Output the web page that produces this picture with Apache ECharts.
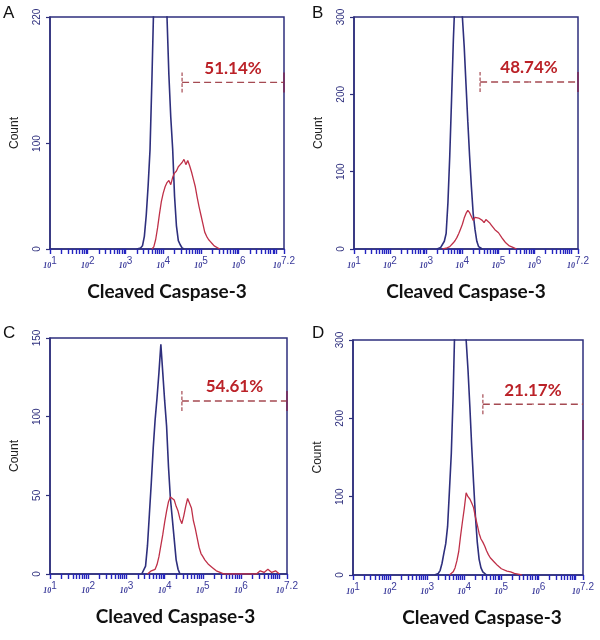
<!DOCTYPE html>
<html><head><meta charset="utf-8">
<script src="https://cdn.jsdelivr.net/npm/echarts@6/dist/echarts.min.js"></script>
<style>html,body{margin:0;padding:0;background:#fff}#c{width:600px;height:640px}</style>
</head><body><div id="c"></div>
<script>
// ---- data (x = log10 of fluorescence, y = count) ----
const panelLetters = ['A','B','C','D'];
const xTickLabels = [1,2,3,4,5,6,7.2];
const yMaxes = [220,300,150,300];
const yLabelsA = [0,100,220];
const yLabelsB = [0,100,200,300];
const yLabelsC = [0,50,100,150];
const yLabelsD = [0,100,200,300];

const blueA_x = [3.30,3.35,3.40,3.45,3.50,3.55,3.60,3.65,3.70,3.75,3.80,3.85,3.90,3.95,4.00,4.05,4.10,4.15,4.20,4.25,4.30,4.35,4.40,4.45,4.50,4.55];
const blueA_y = [0,1,1,3,12,32,60,94,160,235,320,400,440,445,400,310,220,165,125,95,50,22,8,4,1,0];
const redA_x = [3.70,3.75,3.80,3.85,3.90,3.95,4.00,4.05,4.10,4.15,4.20,4.25,4.30,4.35,4.40,4.45,4.50,4.55,4.60,4.65,4.70,4.75,4.80,4.85,4.90,4.95,5.00,5.05,5.10,5.15,5.20,5.25,5.30,5.35,5.40,5.45,5.50];
const redA_y = [0,2,9,20,33,45,53,59,63,65,61,68,72,74,78,80,82,85,80,84,79,73,66,59,49,40,32,24,16,12,9,7,5,3,2,1,0];

const blueB_x = [3.30,3.35,3.40,3.45,3.50,3.55,3.60,3.65,3.70,3.75,3.80,3.85,3.90,3.95,4.00,4.05,4.10,4.15,4.20,4.25,4.30,4.35,4.40,4.45,4.50,4.55];
const blueB_y = [0,1,2,4,10,20,60,120,193,270,330,370,385,360,300,262,213,165,120,80,45,25,10,3,1,0];
const redB_x = [3.45,3.55,3.65,3.75,3.80,3.85,3.90,3.95,4.00,4.05,4.10,4.15,4.20,4.25,4.30,4.35,4.40,4.45,4.50,4.55,4.60,4.65,4.70,4.75,4.80,4.85,4.90,4.95,5.00,5.05,5.10,5.15,5.20,5.25,5.30,5.35,5.40,5.50];
const redB_y = [0,1,3,8,11,15,20,26,32,40,46,50,47,42,37,41,43,40,41,37,34,38,37,34,31,28,25,23,21,19,14,11,8,6,4,3,2,0];

const blueC_x = [3.40,3.45,3.50,3.55,3.60,3.65,3.70,3.75,3.80,3.85,3.90,3.95,4.00,4.05,4.10,4.15,4.20,4.25,4.30,4.35,4.40];
const blueC_y = [0,1,5,18,38,58,80,98,112,128,146,128,110,94,68,48,35,22,9,3,0];
const redC_x = [3.55,3.65,3.75,3.80,3.85,3.90,3.95,4.00,4.05,4.10,4.15,4.20,4.25,4.30,4.35,4.40,4.45,4.50,4.55,4.60,4.65,4.70,4.75,4.80,4.85,4.90,4.95,5.00,5.05,5.10,5.15,5.20,5.25,5.35,5.45,5.55,6.40,6.50,6.60,6.70,6.80,6.90,7.00];
const redC_y = [0,2,3,6,11,18,25,33,40,46,49,48,47,43,40,35,32,37,43,48,49,42,34,29,23,17,13,11,9,8,6,5,4,2,1,0,0,2,1,3,1,2,0];

const blueD_x = [3.20,3.30,3.35,3.40,3.45,3.50,3.55,3.60,3.65,3.70,3.75,3.80,3.85,3.90,3.95,4.00,4.05,4.10,4.15,4.20,4.25,4.30,4.35,4.40,4.45,4.50,4.55,4.60];
const blueD_y = [0,2,6,15,28,40,62,108,155,230,330,420,470,480,440,380,300,262,215,164,118,75,42,20,9,4,2,0];
const redD_x = [3.60,3.70,3.75,3.80,3.85,3.90,3.95,4.00,4.05,4.10,4.15,4.20,4.25,4.30,4.35,4.40,4.45,4.50,4.55,4.60,4.65,4.70,4.75,4.80,4.85,4.90,4.95,5.00,5.05,5.15,5.25,5.35,5.45,5.55];
const redD_y = [0,4,9,18,30,50,68,85,105,100,97,92,86,74,64,53,46,42,37,31,26,22,20,17,15,12,10,8,6,5,4,2,1,0];

const gateStart = [4.5,4.49,4.45,4.5];
const gateLevel = [158,216,110,218];
const gateEndMark = [158,216,110,185];
const gatePct = ['51.14%','48.74%','54.61%','21.17%'];
const xTitle = 'Cleaved Caspase-3';
const yTitle = 'Count';

// ---- layout ----
const grids = [
  {left:50, top:17, width:234, height:232},
  {left:354, top:17, width:224, height:232},
  {left:50, top:338, width:237, height:236},
  {left:353, top:340, width:230, height:235}
];
const letterPos = [[3,5],[312,5],[3,325],[312,325]];
const namePad = [0,0,14,28];

const blues = [[blueA_x,blueA_y],[blueB_x,blueB_y],[blueC_x,blueC_y],[blueD_x,blueD_y]];
const reds = [[redA_x,redA_y],[redB_x,redB_y],[redC_x,redC_y],[redD_x,redD_y]];
const yLabels = [yLabelsA,yLabelsB,yLabelsC,yLabelsD];

const NAVY = '#2e2f7d';
const TICKBLUE = '#2424c0';
const RED = '#bf3048';
const GATE = '#a54a52';

const minorTicks = [];
for (let d = 1; d <= 7; d++) {
  for (let k = 1; k <= 9; k++) {
    const v = d + Math.log10(k);
    if (v <= 7.2) minorTicks.push(+v.toFixed(4));
  }
}
minorTicks.push(7.2);

function pairs(xs, ys){ return xs.map((x,i)=>[x, ys[i]]); }

const chart = echarts.init(document.getElementById('c'), null, {renderer:'canvas'});
const option = {
  animation:false,
  backgroundColor:'#fff',
  title: panelLetters.map((t,i)=>({text:t, left:letterPos[i][0], top:letterPos[i][1], padding:0,
    textStyle:{fontSize:17, fontWeight:'normal', fontFamily:'Liberation Sans', color:'#111'}})),
  grid: grids.map(g=>Object.assign({show:true, borderColor:NAVY, borderWidth:1.5, outerBoundsMode:'none', containLabel:false}, g)),
  xAxis: grids.map((g,i)=>({
    gridIndex:i, type:'value', min:1, max:7.2,
    axisLine:{show:true, onZero:false, lineStyle:{color:NAVY, width:1.5}},
    splitLine:{show:false},
    axisTick:{show:true, customValues:minorTicks, length:5, lineStyle:{color:TICKBLUE, width:1.4}},
    axisLabel:{customValues:xTickLabels, margin:7, hideOverlap:false,
      formatter:(v)=>'{b|10}{s|'+(Math.round(v*10)/10)+'}',
      rich:{b:{fontSize:8, fontStyle:'italic', fontWeight:'bold', color:'#3a3a9a', fontFamily:'Liberation Serif', padding:[5,0,0,0]},
            s:{fontSize:10, color:'#3a3a9a', fontFamily:'Liberation Sans', padding:[0,0,4,0]}}},
    name:xTitle, nameLocation:'middle', nameGap:33,
    nameTextStyle:{fontSize:19, fontWeight:'bold', fontFamily:'Lato', color:'#111', padding:[0,0,0,namePad[i]]}
  })),
  yAxis: grids.map((g,i)=>({
    gridIndex:i, type:'value', min:0, max:yMaxes[i],
    axisLine:{show:true, lineStyle:{color:NAVY, width:1.5}},
    splitLine:{show:false},
    axisTick:{show:true, customValues:yLabels[i], length:4, lineStyle:{color:NAVY, width:1.2}},
    axisLabel:{customValues:yLabels[i], rotate:90, margin:8, fontSize:10, color:NAVY, fontFamily:'Liberation Sans'},
    name:yTitle, nameLocation:'middle', nameRotate:90, nameGap:29,
    nameTextStyle:{fontSize:12, color:'#222', fontFamily:'Liberation Sans'}
  })),
  series: []
};

for (let i = 0; i < 4; i++) {
  option.series.push({type:'line', xAxisIndex:i, yAxisIndex:i, data:pairs(blues[i][0], blues[i][1]),
    showSymbol:false, symbol:'none', clip:true, z:3, lineStyle:{color:NAVY, width:1.6}});
  option.series.push({type:'line', xAxisIndex:i, yAxisIndex:i, data:pairs(reds[i][0], reds[i][1]),
    showSymbol:false, symbol:'none', clip:true, z:4, lineStyle:{color:RED, width:1.3}});
  option.series.push({type:'line', xAxisIndex:i, yAxisIndex:i, data:[[gateStart[i],gateLevel[i]],[7.2,gateLevel[i]]],
    showSymbol:false, symbol:'none', clip:false, z:5, lineStyle:{color:GATE, width:1.4, type:[7,4]}});
  option.series.push({type:'scatter', xAxisIndex:i, yAxisIndex:i, data:[[gateStart[i],gateLevel[i]]],
    symbol:'path://M0,0h2v4h-2z M0,6h2v4h-2z M0,12h2v4h-2z M0,18h2v4h-2z', symbolSize:[1.5,20], z:5,
    itemStyle:{color:GATE}});
  option.series.push({type:'scatter', xAxisIndex:i, yAxisIndex:i, data:[[7.2,gateEndMark[i]]],
    symbol:'rect', symbolSize:[2,20], z:6, clip:false, itemStyle:{color:'#7a2a5a'}});
  option.series.push({type:'scatter', xAxisIndex:i, yAxisIndex:i, data:[[(gateStart[i]+7.2)/2, gateLevel[i]]],
    symbolSize:1, itemStyle:{color:'#ffffff', opacity:1}, z:6,
    label:{show:true, position:'top', distance:5, formatter:gatePct[i], color:'#bb2228', opacity:1,
      fontSize:17, fontWeight:'bold', fontFamily:'Lato'}});
}
chart.setOption(option);
</script></body></html>
